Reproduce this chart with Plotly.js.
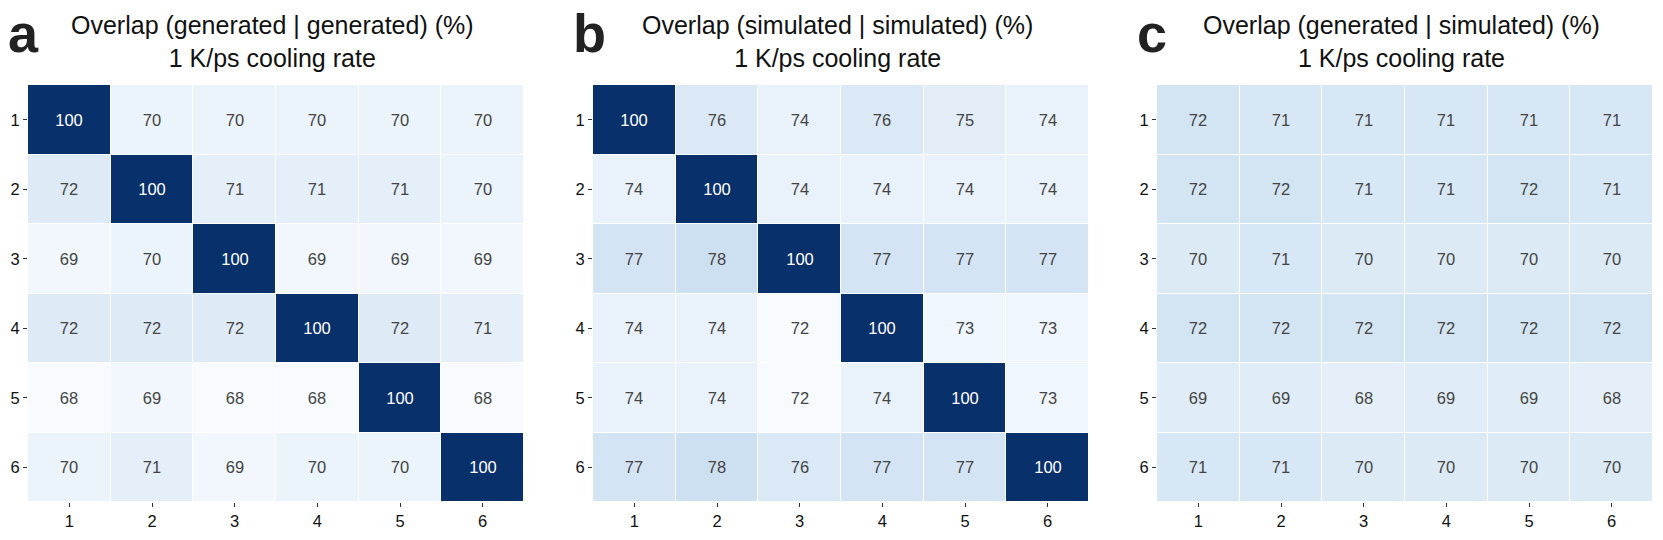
<!DOCTYPE html>
<html>
<head>
<meta charset="utf-8">
<script src="https://cdn.plot.ly/plotly-3.0.1.min.js"></script>
<style>html,body{margin:0;padding:0;background:#fff;}#chart{width:1663px;height:540px;}</style>
</head>
<body>
<div id="chart"></div>
<script>
const labels = ['1', '2', '3', '4', '5', '6'];

const genGen = [
  [100, 70, 70, 70, 70, 70],
  [72, 100, 71, 71, 71, 70],
  [69, 70, 100, 69, 69, 69],
  [72, 72, 72, 100, 72, 71],
  [68, 69, 68, 68, 100, 68],
  [70, 71, 69, 70, 70, 100]
];

const simSim = [
  [100, 76, 74, 76, 75, 74],
  [74, 100, 74, 74, 74, 74],
  [77, 78, 100, 77, 77, 77],
  [74, 74, 72, 100, 73, 73],
  [74, 74, 72, 74, 100, 73],
  [77, 78, 76, 77, 77, 100]
];

const genSim = [
  [72, 71, 71, 71, 71, 71],
  [72, 72, 71, 71, 72, 71],
  [70, 71, 70, 70, 70, 70],
  [72, 72, 72, 72, 72, 72],
  [69, 69, 68, 69, 69, 68],
  [71, 71, 70, 70, 70, 70]
];

const panelLetters = ['a', 'b', 'c'];
const panelTitles = [
  'Overlap (generated | generated) (%)<br>1 K/ps cooling rate',
  'Overlap (simulated | simulated) (%)<br>1 K/ps cooling rate',
  'Overlap (generated | simulated) (%)<br>1 K/ps cooling rate'
];

const blues = [
  [0, '#f7fbff'], [0.125, '#deebf7'], [0.25, '#c6dbef'], [0.375, '#9ecae1'],
  [0.5, '#6baed6'], [0.625, '#4292c6'], [0.75, '#2171b5'], [0.875, '#08519c'], [1, '#08306b']
];

const W = 1663, H = 540;
const px = v => v / W;
const py = v => 1 - v / H;
const panelsX = [[28, 524], [593, 1089], [1157, 1653]];
const yTop = 85, yBot = 502;
const ranges = [[68, 100], [72, 100], [64, 108]];
const matrices = [genGen, simSim, genSim];
const FONT = 'Liberation Sans, Arial, sans-serif';

const traces = [];
const layout = {
  width: W, height: H,
  margin: {l: 0, r: 0, t: 0, b: 0},
  paper_bgcolor: '#fff', plot_bgcolor: '#fff',
  font: {family: FONT, color: '#262626', size: 16},
  showlegend: false,
  annotations: []
};

matrices.forEach((m, i) => {
  const ax = i === 0 ? '' : String(i + 1);
  traces.push({
    type: 'heatmap',
    z: m, x: labels, y: labels,
    xaxis: 'x' + ax, yaxis: 'y' + ax,
    colorscale: blues, zmin: ranges[i][0], zmax: ranges[i][1],
    showscale: false, xgap: 1, ygap: 1,
    texttemplate: '%{z}',
    textfont: {family: FONT, size: 16.5},
    hoverinfo: 'skip'
  });
  layout['xaxis' + ax] = {
    domain: [px(panelsX[i][0]), px(panelsX[i][1])],
    anchor: 'y' + ax, type: 'category',
    showgrid: false, zeroline: false, showline: false,
    ticks: 'outside', ticklen: 4, tickcolor: '#333', tickwidth: 1,
    tickfont: {family: FONT, size: 16.5, color: '#111'}
  };
  layout['yaxis' + ax] = {
    domain: [py(yBot), py(yTop)],
    anchor: 'x' + ax, type: 'category', autorange: 'reversed',
    showgrid: false, zeroline: false, showline: false,
    ticks: 'outside', ticklen: 4, tickcolor: '#333', tickwidth: 1,
    tickfont: {family: FONT, size: 16.5, color: '#111'}
  };
  const cx = (panelsX[i][0] + panelsX[i][1]) / 2;
  layout.annotations.push({
    xref: 'paper', yref: 'paper', x: px(cx - 4), y: py(41),
    xanchor: 'center', yanchor: 'middle', showarrow: false,
    text: panelTitles[i],
    font: {family: FONT, size: 25, color: '#111'}
  });
  layout.annotations.push({
    xref: 'paper', yref: 'paper', x: px(panelsX[i][0] - 22), y: py(33),
    xanchor: 'left', yanchor: 'middle', showarrow: false,
    text: '<b>' + panelLetters[i] + '</b>',
    font: {family: FONT, size: 54, color: '#222'}
  });
});

Plotly.newPlot('chart', traces, layout, {displayModeBar: false, staticPlot: true});
</script>
</body>
</html>
